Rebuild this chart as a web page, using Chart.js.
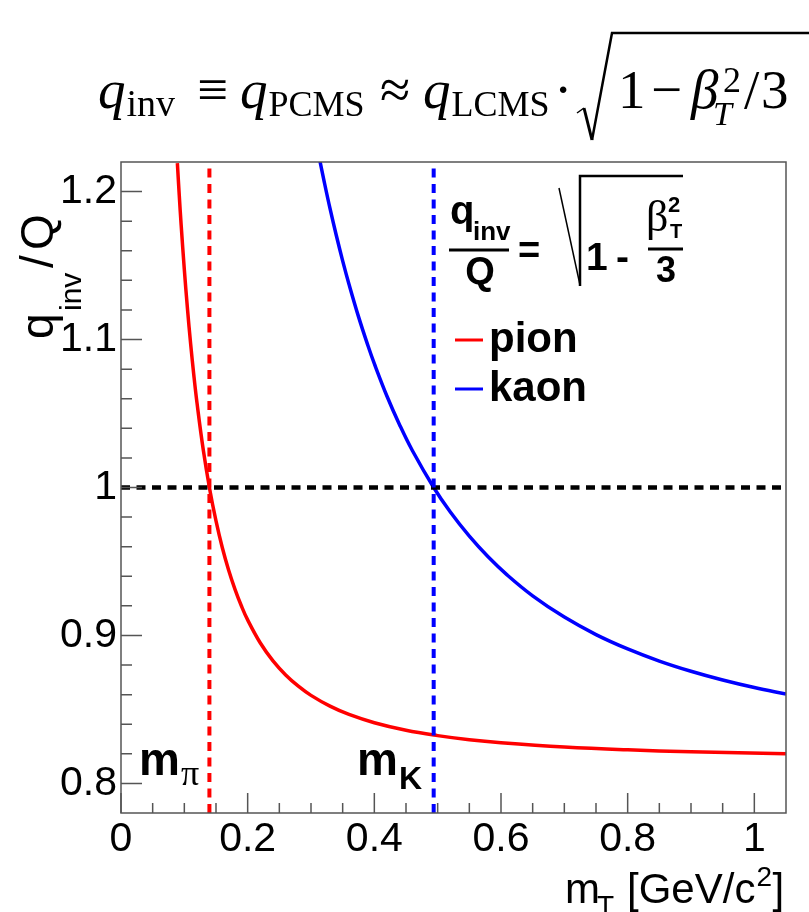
<!DOCTYPE html>
<html>
<head>
<meta charset="utf-8">
<script src="https://cdn.jsdelivr.net/npm/chart.js@4.4.1/dist/chart.umd.min.js"></script>
<style>
html, body { margin: 0; padding: 0; background: #fff; }
</style>
</head>
<body>
<canvas id="chart" width="809" height="912"></canvas>
<script>
// values
const pionMt = [0.089, 0.092, 0.095, 0.10, 0.105, 0.11, 0.115, 0.12, 0.13, 0.14, 0.15, 0.16, 0.17, 0.18, 0.19, 0.20,
                0.22, 0.24, 0.26, 0.28, 0.30, 0.33, 0.36, 0.40, 0.45, 0.50, 0.55, 0.60, 0.70, 0.80, 0.90, 1.05]
const pionRatio = [1.2192, 1.1974, 1.1773, 1.1472, 1.1205, 1.0969, 1.0759, 1.0572, 1.0251, 0.9990, 0.9774, 0.9593, 0.9441, 0.9312, 0.9201, 0.9105,
                   0.8949, 0.8828, 0.8733, 0.8657, 0.8595, 0.8522, 0.8466, 0.8410, 0.8359, 0.8323, 0.8295, 0.8275, 0.8246, 0.8227, 0.8214, 0.8201]
const kaonMt = [0.314, 0.32, 0.33, 0.34, 0.35, 0.36, 0.375, 0.39, 0.40, 0.42, 0.44, 0.46, 0.4937, 0.52, 0.55, 0.58, 0.61,
                0.65, 0.70, 0.75, 0.80, 0.85, 0.90, 0.95, 1.00, 1.05]
const kaonRatio = [1.2209, 1.2084, 1.1886, 1.1703, 1.1532, 1.1374, 1.1155, 1.0958, 1.0837, 1.0617, 1.0423, 1.0250, 1.0000, 0.9834, 0.9671, 0.9530, 0.9408,
                   0.9268, 0.9124, 0.9006, 0.8909, 0.8827, 0.8758, 0.8699, 0.8648, 0.8604]
const massLines = [0.1396, 0.4937]   // m_pi, m_K
const refLevel = 1
const xRange = [0, 1.05]
const yRange = [0.78, 1.22]
const xTicks = [0, 0.2, 0.4, 0.6, 0.8, 1]
const xMinor = [0.05, 0.1, 0.15, 0.25, 0.3, 0.35, 0.45, 0.5, 0.55, 0.65, 0.7, 0.75, 0.85, 0.9, 0.95]
const yTicks = [0.8, 0.9, 1, 1.1, 1.2]
const yMinor = [0.82, 0.84, 0.86, 0.88, 0.92, 0.94, 0.96, 0.98, 1.02, 1.04, 1.06, 1.08, 1.12, 1.14, 1.16, 1.18]

const sans = '"Liberation Sans", Arial, sans-serif'
const serif = '"Liberation Serif", "DejaVu Serif", serif'

function txt(c, s, x, y, font, align) {
    c.font = font
    c.textAlign = align || 'left'
    c.fillText(s, x, y)
    return x + c.measureText(s).width
}

function line(c, pts, w) {
    c.lineWidth = w
    c.beginPath()
    pts.forEach((p, i) => i ? c.lineTo(p[0], p[1]) : c.moveTo(p[0], p[1]))
    c.stroke()
}

// frame + ROOT style ticks drawn inside the plot
const framePlugin = {
    id: 'frame',
    afterDatasetsDraw(chart) {
        const c = chart.ctx
        const a = chart.chartArea
        const xs = chart.scales.x, ys = chart.scales.y
        c.save()
        c.strokeStyle = '#555'
        c.lineWidth = 1.5
        c.strokeRect(a.left, a.top, a.right - a.left, a.bottom - a.top)
        c.beginPath()
        xTicks.concat(xMinor).forEach(v => {
            const px = xs.getPixelForValue(v)
            c.moveTo(px, a.bottom)
            c.lineTo(px, a.bottom - (xTicks.includes(v) ? 20 : 10))
        })
        yTicks.concat(yMinor).forEach(v => {
            const py = ys.getPixelForValue(v)
            c.moveTo(a.left, py)
            c.lineTo(a.left + (yTicks.includes(v) ? 21 : 11), py)
        })
        c.stroke()
        c.restore()
    }
}

const textPlugin = {
    id: 'texts',
    afterDraw(chart) {
        const c = chart.ctx
        c.save()
        c.fillStyle = '#000'
        c.strokeStyle = '#000'
        c.textBaseline = 'alphabetic'

        // formula on top
        let x = txt(c, 'q', 98, 108, `italic 55px ${serif}`)
        txt(c, 'inv', x + 1, 116, `38px ${serif}`)
        txt(c, '\u2261', 197, 108, `55px ${serif}`)
        x = txt(c, 'q', 240, 108, `italic 55px ${serif}`)
        txt(c, 'PCMS', x + 1, 116, `36px ${serif}`)
        txt(c, '\u2248', 380, 108, `55px ${serif}`)
        x = txt(c, 'q', 423, 108, `italic 55px ${serif}`)
        txt(c, 'LCMS', x + 1, 116, `36px ${serif}`)
        txt(c, '\u00b7', 554, 108, `55px ${serif}`)
        line(c, [[577, 113], [584, 108]], 1.5)
        line(c, [[584, 108], [592, 140]], 3)
        line(c, [[592, 140], [612, 33], [809, 33]], 2.5)
        txt(c, '1', 618, 108, `55px ${serif}`)
        txt(c, '\u2212', 651, 108, `55px ${serif}`)
        txt(c, '\u03b2', 691, 108, `italic 55px ${serif}`)
        txt(c, '2', 723, 92, `36px ${serif}`)
        txt(c, 'T', 713, 125, `italic 34px ${serif}`)
        txt(c, '/', 744, 108, `55px ${serif}`)
        txt(c, '3', 761, 108, `55px ${serif}`)

        // y axis title, right aligned to the top
        c.save()
        c.translate(53, 214)
        c.rotate(-Math.PI / 2)
        txt(c, 'q', -125, 0, `46px ${sans}`)
        txt(c, 'inv', -97, 28, `30px ${sans}`)
        txt(c, '/', -54, 0, `46px ${sans}`)
        txt(c, 'Q', -36, 0, `46px ${sans}`)
        c.restore()

        // x axis title
        txt(c, 'm', 565, 903, `42px ${sans}`)
        txt(c, 'T', 597, 915, `28px ${sans}`)
        x = txt(c, '[GeV/c', 627, 903, `42px ${sans}`)
        txt(c, '2', x + 1, 886, `28px ${sans}`)
        txt(c, ']', x + 17, 903, `42px ${sans}`)

        // formula box inside the frame
        txt(c, 'q', 450, 224, `bold 40px ${sans}`)
        txt(c, 'inv', 473, 240, `bold 26px ${sans}`)
        line(c, [[449, 250], [509, 250]], 3)
        txt(c, 'Q', 480, 284, `bold 38px ${sans}`, 'center')
        txt(c, '=', 518, 263, `bold 38px ${sans}`)
        line(c, [[559, 188], [580, 285]], 1.5)
        line(c, [[580, 286], [580, 176], [683, 176]], 2.5)
        txt(c, '1', 586, 270, `bold 39px ${sans}`)
        txt(c, '-', 616, 270, `bold 39px ${sans}`)
        txt(c, '\u03b2', 646, 231, `44px ${serif}`)
        txt(c, '2', 668, 212, `bold 22px ${sans}`)
        txt(c, 'T', 670, 238, `bold 20px ${sans}`)
        line(c, [[648, 249], [683, 249]], 3)
        txt(c, '3', 666, 282, `bold 36px ${sans}`, 'center')

        // legend from the curve datasets
        chart.data.datasets.slice(0, 2).forEach((ds, i) => {
            const ly = 340 + i * 49
            c.strokeStyle = ds.borderColor
            line(c, [[455, ly], [483, ly]], 3)
            txt(c, ds.label, 489, ly + 12, `bold 42px ${sans}`)
        })

        // mass labels
        x = txt(c, 'm', 139, 775, `bold 46px ${sans}`)
        txt(c, '\u03c0', x + 1, 785, `36px ${serif}`)
        x = txt(c, 'm', 357, 775, `bold 46px ${sans}`)
        txt(c, 'K', x + 1, 789, `bold 32px ${sans}`)
        c.restore()
    }
}

const toPts = (xs, ys) => xs.map((v, i) => ({x: v, y: ys[i]}))
const dash = [9, 6.5]

const ctx = document.getElementById('chart').getContext('2d')
new Chart(ctx, {
    type: 'line',
    data: {
        datasets: [
            {label: 'pion', data: toPts(pionMt, pionRatio), borderColor: '#ff0000', borderWidth: 3.5,
             pointRadius: 0, tension: 0.4, order: 3},
            {label: 'kaon', data: toPts(kaonMt, kaonRatio), borderColor: '#0000ff', borderWidth: 3.5,
             pointRadius: 0, tension: 0.4, order: 3},
            {label: 'm_pi', data: toPts([massLines[0], massLines[0]], yRange), borderColor: '#ff0000',
             borderWidth: 4, borderDash: dash, pointRadius: 0, order: 1},
            {label: 'm_K', data: toPts([massLines[1], massLines[1]], yRange), borderColor: '#0000ff',
             borderWidth: 4, borderDash: dash, pointRadius: 0, order: 1},
            {label: 'ref', data: toPts(xRange, [refLevel, refLevel]), borderColor: '#000000',
             borderWidth: 4.5, borderDash: dash, pointRadius: 0, order: 1}
        ]
    },
    options: {
        responsive: false,
        animation: false,
        layout: {padding: {top: 162, right: 23, left: 0, bottom: 0}},
        plugins: {legend: {display: false}, tooltip: {enabled: false}},
        scales: {
            x: {
                type: 'linear', min: xRange[0], max: xRange[1],
                afterBuildTicks: s => { s.ticks = xTicks.map(v => ({value: v})) },
                afterFit: s => { s.height = 99 },
                grid: {display: false, drawTicks: false},
                border: {display: false},
                ticks: {color: '#000', font: {family: sans, size: 41}, padding: 2, maxRotation: 0,
                        callback: v => String(v)}
            },
            y: {
                type: 'linear', min: yRange[0], max: yRange[1],
                afterBuildTicks: s => { s.ticks = yTicks.map(v => ({value: v})) },
                afterFit: s => { s.width = 121 },
                grid: {display: false, drawTicks: false},
                border: {display: false},
                ticks: {color: '#000', font: {family: sans, size: 41}, padding: 4,
                        callback: v => String(v)}
            }
        }
    },
    plugins: [framePlugin, textPlugin]
})
</script>
</body>
</html>
